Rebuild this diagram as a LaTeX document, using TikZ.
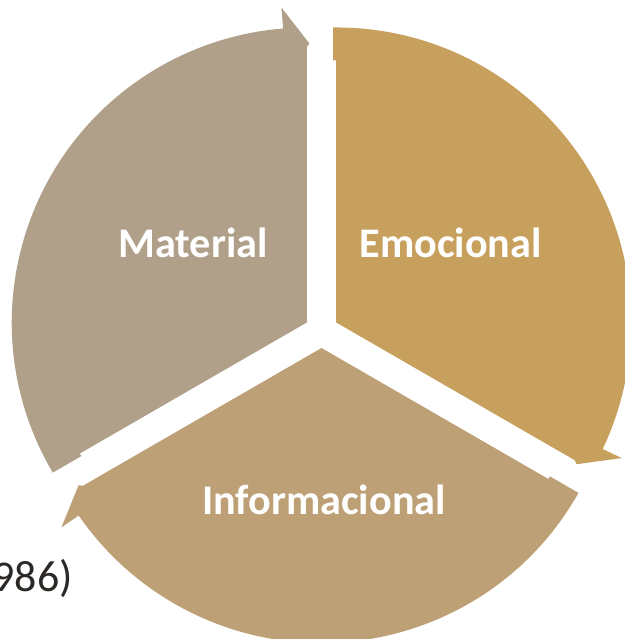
\documentclass[tikz,border=0pt]{standalone}
\usepackage{fontspec}
\setmainfont{Carlito}
\definecolor{materialcol}{HTML}{B0A08A}
\definecolor{emocionalcol}{HTML}{C8A05E}
\definecolor{informacol}{HTML}{BEA076}
\definecolor{citacol}{HTML}{2B2825}
\tikzset{
    segtext/.style={text=white,font=\fontsize{24}{28}\selectfont\bfseries,anchor=base,inner sep=0pt},
}
\begin{document}
\begin{tikzpicture}[x=0.02cm,y=0.02cm]
        %Frame
            \useasboundingbox (0,0) rectangle (625,639);
            \clip (0,0) rectangle (625,639);
        %Center
            \coordinate (center) at (321.5,308);
        %Segments
            \begin{scope}[shift={(center)}]
            \fill[materialcol,shift={(150:17)}] (0,0) -- (210:262) -- ++(300:3) -- ++(210:33)
                arc[start angle=210.58,end angle=94.6,radius=295] -- (94.6:316) -- (2.6,279) -- (90:275.5) -- cycle;
            \fill[emocionalcol,rotate=-120,shift={(150:17)}] (0,0) -- (210:262) -- ++(300:3) -- ++(210:33)
                arc[start angle=210.58,end angle=94.6,radius=295] -- (94.6:316) -- (2.6,279) -- (90:275.5) -- cycle;
            \fill[informacol,rotate=120,shift={(150:17)}] (0,0) -- (210:262) -- ++(300:3) -- ++(210:33)
                arc[start angle=210.58,end angle=94.6,radius=295] -- (94.6:316) -- (2.6,279) -- (90:275.5) -- cycle;
            \end{scope}
        %Labels
            \node[segtext] (material) at (193,381.7) {Material};
            \node[segtext] (emocional) at (450.7,381.7) {Emocional};
            \node[segtext] (informacional) at (324,124) {Informacional};
        %Citation
            \node[text=citacol,font=\fontsize{25}{29}\selectfont,anchor=base east,inner sep=0pt] (cita) at (73,47.3) {986)};
    \end{tikzpicture}
\end{document}
